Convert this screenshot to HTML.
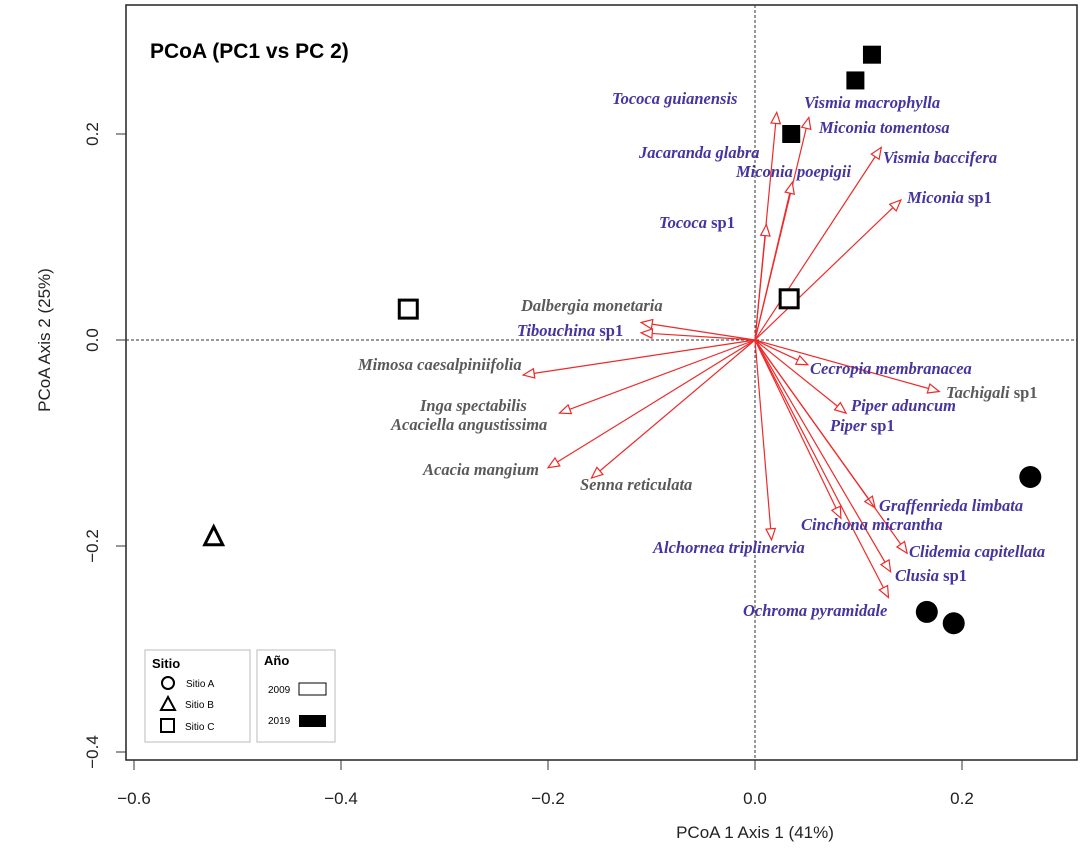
<!DOCTYPE html>
<html><head><meta charset="utf-8"><style>
body{margin:0;background:#fff;}
svg{display:block;font-family:"Liberation Sans",sans-serif;}
.sp{font-family:"Liberation Serif",serif;font-style:italic;font-weight:bold;font-size:16.5px;}
.p{fill:#45359f}.g{fill:#5a5a5a}
</style></head><body>
<svg id="chart" width="1083" height="850">
<g id="axes"></g><g id="arrows"></g><g id="pts"></g>
<text x="150" y="58" font-size="21" font-weight="bold">PCoA (PC1 vs PC 2)</text>
<text x="755" y="838" font-size="17" text-anchor="middle" fill="#222">PCoA 1 Axis 1 (41%)</text>
<text transform="translate(50,340) rotate(-90)" font-size="17" text-anchor="middle" fill="#222">PCoA Axis 2 (25%)</text>
<g class="sp">
<text class="p" x="612" y="104">Tococa guianensis</text>
<text class="p" x="804" y="108">Vismia macrophylla</text>
<text class="p" x="819" y="133">Miconia tomentosa</text>
<text class="p" x="639" y="158">Jacaranda glabra</text>
<text class="p" x="736" y="177">Miconia poepigii</text>
<text class="p" x="883" y="163">Vismia baccifera</text>
<text class="p" x="907" y="203"><tspan>Miconia</tspan><tspan font-style="normal"> sp1</tspan></text>
<text class="p" x="659" y="228"><tspan>Tococa</tspan><tspan font-style="normal"> sp1</tspan></text>
<text class="g" x="521" y="311">Dalbergia monetaria</text>
<text class="p" x="517" y="336"><tspan>Tibouchina</tspan><tspan font-style="normal"> sp1</tspan></text>
<text class="g" x="358" y="370">Mimosa caesalpiniifolia</text>
<text class="g" x="420" y="411">Inga spectabilis</text>
<text class="g" x="391" y="430">Acaciella angustissima</text>
<text class="g" x="423" y="475">Acacia mangium</text>
<text class="g" x="580" y="490">Senna reticulata</text>
<text class="p" x="810" y="374">Cecropia membranacea</text>
<text class="g" x="946" y="398"><tspan>Tachigali</tspan><tspan font-style="normal"> sp1</tspan></text>
<text class="p" x="851" y="411">Piper aduncum</text>
<text class="p" x="830" y="431"><tspan>Piper</tspan><tspan font-style="normal"> sp1</tspan></text>
<text class="p" x="879" y="511">Graffenrieda limbata</text>
<text class="p" x="801" y="530">Cinchona micrantha</text>
<text class="p" x="653" y="553">Alchornea triplinervia</text>
<text class="p" x="909" y="557">Clidemia capitellata</text>
<text class="p" x="895" y="581"><tspan>Clusia</tspan><tspan font-style="normal"> sp1</tspan></text>
<text class="p" x="743" y="616">Ochroma pyramidale</text>
</g>
<g>
<rect x="145" y="650" width="105" height="92" fill="#fff" stroke="#bbb"/>
<text x="152" y="668" font-size="13" font-weight="bold">Sitio</text>
<circle cx="168" cy="683" r="6" fill="none" stroke="#000" stroke-width="2"/><text x="186" y="687" font-size="10">Sitio A</text>
<path d="M168,697 L175,710 L161,710 Z" fill="none" stroke="#000" stroke-width="2"/><text x="185" y="708" font-size="10">Sitio B</text>
<rect x="161" y="719" width="13" height="13" fill="none" stroke="#000" stroke-width="2"/><text x="185" y="730" font-size="10">Sitio C</text>
</g>
<g>
<rect x="257" y="650" width="78" height="92" fill="#fff" stroke="#bbb"/>
<text x="264" y="665" font-size="13" font-weight="bold">Año</text>
<text x="268" y="693" font-size="10">2009</text><rect x="299" y="683" width="27" height="12" fill="#fff" stroke="#000"/>
<text x="268" y="724" font-size="10">2019</text><rect x="299" y="715" width="27" height="12" fill="#000"/>
</g>
</svg>
<script>
const xTicks=[-0.6,-0.4,-0.2,0.0,0.2];
const yTicks=[-0.4,-0.2,0.0,0.2];
const arrowNames=["Tococa guianensis","Vismia macrophylla","Miconia poepigii","Tococa sp1","Vismia baccifera","Miconia sp1","Dalbergia monetaria","Tibouchina sp1","Mimosa caesalpiniifolia","Inga spectabilis","Acacia mangium","Senna reticulata","Cecropia membranacea","Tachigali sp1","Piper aduncum","Graffenrieda limbata","Cinchona micrantha","Alchornea triplinervia","Clidemia capitellata","Clusia sp1","Ochroma pyramidale"];
const arrowX=[0.021,0.052,0.036,0.011,0.122,0.141,-0.110,-0.110,-0.224,-0.189,-0.200,-0.158,0.051,0.178,0.088,0.116,0.083,0.016,0.147,0.131,0.129];
const arrowY=[0.221,0.216,0.153,0.112,0.187,0.136,0.017,0.007,-0.034,-0.071,-0.124,-0.134,-0.024,-0.050,-0.071,-0.163,-0.173,-0.194,-0.207,-0.225,-0.250];
const siteShape=["square","square","square","square","square","triangle","circle","circle","circle"];
const siteFilled=[true,true,true,false,false,false,true,true,true];
const siteX=[0.113,0.097,0.035,0.033,-0.335,-0.523,0.266,0.166,0.192];
const siteY=[0.277,0.252,0.200,0.040,0.030,-0.191,-0.133,-0.264,-0.275];
const NS="http://www.w3.org/2000/svg";
const L=126,R=1077,T=5,B=760;
const sx=v=>755+v*1035, sy=v=>340-v*1030;
function mk(t,a,p){const e=document.createElementNS(NS,t);for(const k in a)e.setAttribute(k,a[k]);p.appendChild(e);return e;}
const ax=document.getElementById('axes');
const box=mk('rect',{x:L,y:T,width:R-L,height:B-T,fill:'none',stroke:'#222','stroke-width':1.5},ax);


const h=mk('line',{x1:L,x2:R,y1:sy(0),y2:sy(0),stroke:'#333','stroke-dasharray':'3,2'},ax);


const v=mk('line',{x1:sx(0),x2:sx(0),y1:T,y2:B,stroke:'#333','stroke-dasharray':'3,2'},ax);


xTicks.forEach(t=>{const x=sx(t);
 mk('line',{x1:x,x2:x,y1:B,y2:B+10,stroke:'#333'},ax);
 const tx=mk('text',{x:x,y:B+44,'font-size':17,'text-anchor':'middle',fill:'#222'},ax);
 tx.textContent=(t<0?'\u2212':'')+Math.abs(t).toFixed(1);
 
 });
yTicks.forEach(t=>{const y=sy(t);
 mk('line',{x1:L-10,x2:L,y1:y,y2:y,stroke:'#333'},ax);
 const tx=mk('text',{transform:`translate(98,${y}) rotate(-90)`,'font-size':17,'text-anchor':'middle',fill:'#222'},ax);
 tx.textContent=(t<0?'\u2212':'')+Math.abs(t).toFixed(1);
 
 });
const ar=document.getElementById('arrows');
arrowX.forEach((xv,i)=>{const x0=sx(0),y0=sy(0),x1=sx(xv),y1=sy(arrowY[i]);
 const g=mk('g',{},ar);
 
 
 mk('line',{x1:x0,y1:y0,x2:x1,y2:y1,stroke:'#ee2a2a','stroke-width':1.2},g);
 const a=Math.atan2(y1-y0,x1-x0),len=12,w=0.4;
 const p1=[x1-len*Math.cos(a-w),y1-len*Math.sin(a-w)],p2=[x1-len*Math.cos(a+w),y1-len*Math.sin(a+w)];
 mk('path',{d:`M${x1},${y1}L${p1}L${p2}Z`,fill:'#fff',stroke:'#ee2a2a','stroke-width':1.2},g);});
const pt=document.getElementById('pts');
siteX.forEach((xv,i)=>{const x=sx(xv),y=sy(siteY[i]);const f=siteFilled[i];let e;
 const at={fill:f?'#000':'#fff',stroke:'#000','stroke-width':f?0:3};
 if(siteShape[i]==='square')e=mk('rect',Object.assign({x:x-9,y:y-9,width:18,height:18},at),pt);
 else if(siteShape[i]==='circle')e=mk('circle',Object.assign({cx:x,cy:y,r:11},at),pt);
 else e=mk('path',Object.assign({d:`M${x},${y-10}L${x+9},${y+8}L${x-9},${y+8}Z`},at),pt);
 
 });
</script>
</body></html>
